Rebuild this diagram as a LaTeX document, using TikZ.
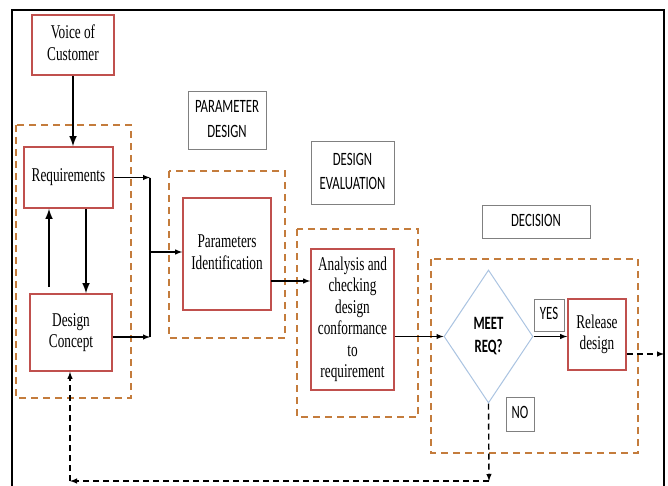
\documentclass[tikz,border=0pt]{standalone}
\usepackage{fontspec}
\setmainfont{Liberation Serif}
\newfontfamily\tagfont{Carlito}
\usetikzlibrary{shapes.geometric,scopes}

\definecolor{boxred}{RGB}{192,80,77}
\definecolor{grouporange}{RGB}{196,124,60}
\definecolor{diamondblue}{RGB}{170,195,225}

\def\rline{1.6pt}
% the letters of the chart are narrow and tall
\newcommand\squash[1]{\scalebox{0.68}[1]{\begin{tabular}{@{}c@{}}#1\end{tabular}}}

\begin{document}
\begin{tikzpicture}[x=1pt,y=-1pt,
    box/.style={rectangle,draw=boxred,line width=\rline,inner sep=2pt,
        font=\fontsize{19.5}{21.5}\selectfont},
    group/.style={draw=grouporange,line width=\rline,dash pattern=on 7pt off 5pt},
    tag/.style={rectangle,draw=gray,line width=0.8pt,
        font=\tagfont\fontsize{18.8}{24.5}\selectfont},
    decide/.style={diamond,draw=diamondblue,line width=1pt,inner sep=0pt,
        font=\tagfont\bfseries\fontsize{18.8}{23}\selectfont},
    flow/.style={->,>=latex,line width=1.4pt},
    back/.style={flow,dash pattern=on 6pt off 4pt},
]
\useasboundingbox (0,0) rectangle (668,486);

% Outer frame, cut off at the bottom
\draw[line width=\rline] (12,486) |- (664,10) -- (664,486);

%% Stage groups (dashed)
{[group]
    \draw (16,125) rectangle (131,398);
    \draw (169,171) rectangle (285,338);
    \draw (297,229) rectangle (418,417);
    \draw (431,259) rectangle (638,453);
}

%% Stage titles
\node[tag,minimum width=78pt,minimum height=58pt] (par) at (227,120) {\squash{PARAMETER\\DESIGN}};
\node[tag,minimum width=83pt,minimum height=63pt] (eva) at (352.5,172.5) {\squash{DESIGN\\EVALUATION}};
\node[tag,minimum width=108pt,minimum height=33pt] (dec) at (536,221.5) {\squash{DECISION}};

%% Process boxes
\node[box,minimum width=82pt,minimum height=60pt] (voc) at (73,45) {\squash{Voice of\\Customer}};
\node[box,minimum width=89pt,minimum height=61pt] (req) at (68.5,177.5) {\squash{Requirements}};
\node[box,minimum width=82pt,minimum height=77pt] (dc) at (71,332.5) {\squash{Design\\Concept}};
\node[box,minimum width=88pt,minimum height=112pt] (pid) at (227,254) {\squash{Parameters\\Identification}};
\node[box,minimum width=83pt,minimum height=141pt] (ana) at (352.5,319.5)
    {\squash{Analysis and\\checking\\design\\conformance\\to\\requirement}};
\node[decide,minimum width=89pt,minimum height=133pt] (meet) at (488.5,336.5) {\squash{MEET\\REQ?}};
\node[box,minimum width=58pt,minimum height=71pt] (rel) at (597,334.5) {\squash{Release\\design}};

% Answers
\node[tag,minimum width=30pt,minimum height=32pt] (yes) at (549,315) {\squash{YES}};
\node[tag,minimum width=28pt,minimum height=34pt] (no) at (520,414) {\squash{NO}};

% Junction points
\coordinate (j1) at (150,178);
\coordinate (j2) at (150,337);
\coordinate (j3) at (150,252);
\coordinate (pa) at (271,281);
\coordinate (fr) at (664,354);
\coordinate (n1) at (489,481);
\coordinate (n2) at (70,481);

%% Connectors
{[flow]
    \draw[line width=2.4pt] (voc.south) -- (voc.south |- req.north);
    \draw[line width=2.4pt] ([xshift=-22pt,yshift=6pt]dc.north) -- ([xshift=-22pt]dc.north |- req.south);
    \draw[line width=2.4pt] ([xshift=17.5pt]req.south) -- ([xshift=17.5pt]req.south |- dc.north);
    \draw (req.east) -- (req.east -| j1);
    \draw (dc.east |- j2) -- (j2);
    \draw[-] (j1) -- (j2);
    \draw (j3) -- (j3 -| pid.west);
    \draw (pa) -- (pa -| ana.west);
    \draw (ana.east |- meet.west) -- (meet.west);
    \draw (meet.east) -- (meet.east -| rel.west);
}

% Release and the way back
{[back]
    \draw (rel.east |- fr) -- (fr);
    \draw (meet.south) -- (n1);
    \draw (n1) -- (n2);
    \draw (n2) -- (n2 |- dc.south);
}

\end{tikzpicture}
\end{document}
